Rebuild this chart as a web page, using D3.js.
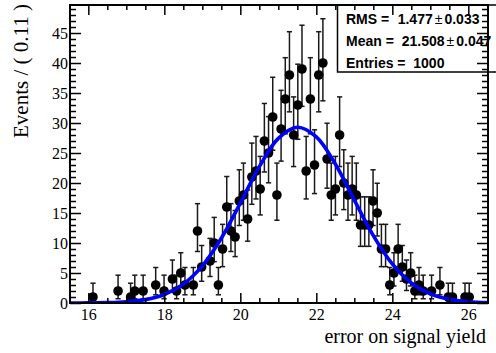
<!DOCTYPE html>
<html>
<head>
<meta charset="utf-8">
<script src="https://cdn.jsdelivr.net/npm/d3@7"></script>
<style>
body { margin: 0; background: #fff; }
svg { display: block; }
.tick text { font-family: "Liberation Serif", "DejaVu Serif", serif; font-size: 16px; fill: #000; }
</style>
</head>
<body>
<svg id="chart" width="496" height="353"></svg>
<script>
// histogram: 100 bins of 0.11 starting at 15.518
const binLow = 15.518;
const binWidth = 0.11;
const counts = [
  0, 0, 0, 0, 0, 1, 0, 0, 0, 0,
  0, 2, 0, 0, 1, 2, 0, 2, 0, 0,
  3, 0, 2, 0, 4, 2, 5, 3, 0, 3,
  12, 6, 0, 7, 10, 3, 9, 16, 12, 11,
  17, 18, 14, 21, 22, 19, 27, 25, 31, 18,
  29, 34, 38, 28, 33, 39, 22, 34, 23, 38,
  40, 24, 18, 19, 28, 20, 18, 19, 18, 13,
  13, 13, 17, 15, 9, 9, 3, 5, 9, 6,
  4, 5, 2, 3, 2, 0, 2, 0, 3, 0,
  1, 1, 0, 0, 1, 1, 0, 0, 0, 0
];

// fitted gaussian
const curveX = [15.5, 16, 16.5, 17, 17.5, 18, 18.5, 19, 19.5, 20, 20.5, 21, 21.5,
                22, 22.5, 23, 23.5, 24, 24.5, 25, 25.5, 26, 26.5];
const curveY = [0.0, 0.02, 0.06, 0.2, 0.56, 1.42, 3.15, 6.2, 10.8, 16.66, 22.72, 27.43, 29.3,
                27.69, 23.17, 17.15, 11.24, 6.51, 3.34, 1.52, 0.61, 0.22, 0.07];

const statLabels = ["RMS =", "Mean =", "Entries ="];
const statValues = ["1.477", "21.508", "1000"];
const statErrors = ["0.033", "0.047", null];

const xTicks = [16, 18, 20, 22, 24, 26];
const yTicks = [0, 5, 10, 15, 20, 25, 30, 35, 40, 45];

const svg = d3.select("#chart");
const L = 70, R = 488, T = 5, B = 303;

const x = d3.scaleLinear().domain([binLow, binLow + 100 * binWidth]).range([L, R]);
const y = d3.scaleLinear().domain([0, 49.67]).range([B, T]);

// central 68% poisson interval, like RooHistError
function poissonCdf(n, mu) {
  let term = Math.exp(-mu), sum = term;
  for (let k = 1; k <= n; k++) { term *= mu / k; sum += term; }
  return sum;
}
function poissonInterval(n) {
  const a = 0.158655;
  let lo = n, hi = n + 10 * Math.sqrt(n + 1) + 5;
  for (let i = 0; i < 60; i++) {
    const m = (lo + hi) / 2;
    if (poissonCdf(n, m) > a) lo = m; else hi = m;
  }
  const up = (lo + hi) / 2;
  let low = 0;
  if (n > 0) {
    lo = 0; hi = n;
    for (let i = 0; i < 60; i++) {
      const m = (lo + hi) / 2;
      if (poissonCdf(n - 1, m) > 1 - a) lo = m; else hi = m;
    }
    low = (lo + hi) / 2;
  }
  return [low, up];
}

const points = counts
  .map((c, i) => ({ x: binLow + (i + 0.5) * binWidth, n: c, err: poissonInterval(c) }))
  .filter(d => d.n > 0);

svg.append("defs").append("clipPath").attr("id", "frame")
  .append("rect").attr("x", L).attr("y", T).attr("width", R - L).attr("height", B - T);

const plot = svg.append("g").attr("clip-path", "url(#frame)");

// error bars
const bars = plot.append("g")
  .attr("stroke", "#1a1a1a")
  .attr("stroke-width", 1.5)
  .selectAll("g")
  .data(points)
  .join("g");

bars.append("line")
  .attr("x1", d => x(d.x)).attr("x2", d => x(d.x))
  .attr("y1", d => y(d.err[0])).attr("y2", d => y(d.err[1]));
bars.append("line")
  .attr("x1", d => x(d.x) - 2.6).attr("x2", d => x(d.x) + 2.6)
  .attr("y1", d => y(d.err[1])).attr("y2", d => y(d.err[1]));
bars.append("line")
  .attr("x1", d => x(d.x) - 2.6).attr("x2", d => x(d.x) + 2.6)
  .attr("y1", d => y(d.err[0])).attr("y2", d => y(d.err[0]));

plot.append("g")
  .selectAll("circle")
  .data(points)
  .join("circle")
  .attr("cx", d => x(d.x))
  .attr("cy", d => y(d.n))
  .attr("r", 4.8)
  .attr("fill", "#000");

// fit curve
const line = d3.line()
  .x((d, i) => x(curveX[i]))
  .y(d => y(d))
  .curve(d3.curveCatmullRom);

svg.append("path")
  .datum(curveY)
  .attr("d", line)
  .attr("fill", "none")
  .attr("stroke", "#0000ff")
  .attr("stroke-width", 3.6)
  .attr("clip-path", "url(#frame)");

// stats box
svg.append("rect")
  .attr("x", 337.5).attr("y", T)
  .attr("width", 170).attr("height", 67)
  .attr("fill", "#fff").attr("stroke", "#000").attr("stroke-width", 1.5);

const statX = [397.7, 401.7, 413.3];
const stats = svg.append("g")
  .style("font-family", "'Liberation Sans', Arial, sans-serif")
  .style("font-size", "14px")
  .style("font-weight", "bold");
statLabels.forEach((lab, i) => {
  const by = 24 + i * 21.8;
  stats.append("text").attr("x", 346).attr("y", by).text(lab);
  const t = stats.append("text").attr("x", statX[i]).attr("y", by);
  t.append("tspan").text(statValues[i]);
  if (statErrors[i]) {
    t.append("tspan").attr("dx", 2).style("font-weight", "normal").text("\u00b1");
    t.append("tspan").attr("dx", 2).text(statErrors[i]);
  }
});

// axes, ROOT style ticks inside the frame
function styleAxis(g) {
  g.select(".domain").remove();
  g.selectAll(".tick line").attr("stroke", "#000").attr("stroke-width", 1.5);
}
const xMinor = d3.range(16.5, 26.6, 0.5).filter(v => !xTicks.includes(v));
const yMinor = d3.range(1, 50).filter(v => v % 5 !== 0);

svg.append("g").attr("transform", `translate(0,${B})`)
  .call(d3.axisBottom(x).tickValues(xTicks).tickSize(-10).tickPadding(6).tickFormat(d3.format("d")))
  .call(styleAxis);
svg.append("g").attr("transform", `translate(0,${B})`)
  .call(d3.axisBottom(x).tickValues(xMinor).tickSize(-5).tickFormat(""))
  .call(styleAxis);
svg.append("g").attr("transform", `translate(0,${T})`)
  .call(d3.axisTop(x).tickValues(xTicks).tickSize(-10).tickFormat(""))
  .call(styleAxis);
svg.append("g").attr("transform", `translate(0,${T})`)
  .call(d3.axisTop(x).tickValues(xMinor).tickSize(-5).tickFormat(""))
  .call(styleAxis);

svg.append("g").attr("transform", `translate(${L},0)`)
  .call(d3.axisLeft(y).tickValues(yTicks).tickSize(-11).tickPadding(2))
  .call(styleAxis);
svg.append("g").attr("transform", `translate(${L},0)`)
  .call(d3.axisLeft(y).tickValues(yMinor).tickSize(-6).tickFormat(""))
  .call(styleAxis);
svg.append("g").attr("transform", `translate(${R},0)`)
  .call(d3.axisRight(y).tickValues(yTicks).tickSize(-11).tickFormat(""))
  .call(styleAxis);
svg.append("g").attr("transform", `translate(${R},0)`)
  .call(d3.axisRight(y).tickValues(yMinor).tickSize(-6).tickFormat(""))
  .call(styleAxis);

svg.append("rect")
  .attr("x", L).attr("y", T).attr("width", R - L).attr("height", B - T)
  .attr("fill", "none").attr("stroke", "#000").attr("stroke-width", 2);

// axis titles
svg.append("text")
  .attr("transform", `translate(28,${T - 1}) rotate(-90)`)
  .attr("text-anchor", "end")
  .style("font-family", "'Liberation Serif', serif")
  .style("font-size", "21px")
  .text("Events / ( 0.11 )");

svg.append("text")
  .attr("x", 486).attr("y", 343)
  .attr("text-anchor", "end")
  .style("font-family", "'Liberation Serif', serif")
  .style("font-size", "20px")
  .text("error on signal yield");
</script>
</body>
</html>
